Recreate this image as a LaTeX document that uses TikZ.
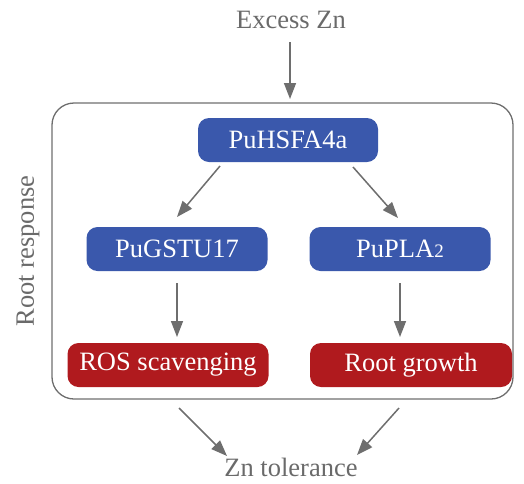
\documentclass[tikz,border=0pt]{standalone}
\usepackage{fontspec}
\setmainfont{Liberation Serif}
\usetikzlibrary{arrows.meta}
\definecolor{boxblue}{HTML}{3A58AC}
\definecolor{boxred}{HTML}{B01A1E}
\definecolor{txtgray}{HTML}{6A6A6A}
\definecolor{arrgray}{HTML}{6E6E6E}
\begin{document}
\begin{tikzpicture}[x=1pt,y=-1pt,
  bluebox/.style={fill=boxblue,text=white,rounded corners=11pt,minimum height=44pt,inner sep=0pt,font=\fontsize{26.5}{30}\selectfont},
  redbox/.style={fill=boxred,text=white,rounded corners=11pt,minimum height=44pt,inner sep=0pt,font=\fontsize{26.5}{30}\selectfont},
  lbl/.style={text=txtgray,inner sep=0pt,font=\fontsize{26.5}{30}\selectfont},
  arr/.style={draw=arrgray,line width=1.5pt,-{Triangle[length=16pt,width=12pt]}}]
\useasboundingbox (0,0) rectangle (524,483);
\node[lbl] (ex) at (291,20) {Excess Zn};
\node[lbl] (tol) at (291,467) {Zn tolerance};
\node[lbl,rotate=90] (rr) at (28,251) {Root response};
\draw[draw=arrgray,line width=1.3pt,rounded corners=22pt] (52,103) rectangle (513,399);
\node[bluebox,minimum width=180pt] (hsf) at (288,140) {PuHSFA4a};
\node[bluebox,minimum width=181pt] (gst) at (177,249) {PuGSTU17};
\node[bluebox,minimum width=181pt] (pla) at (400,249) {PuPLA{\fontsize{19}{20}\selectfont 2}};
\node[redbox,minimum width=201pt] (ros) at (168,365) {ROS scavenging};
\node[redbox,minimum width=202pt] (rg) at (411,365) {Root growth};
\coordinate (a0) at (290,42);  \coordinate (a1) at (290,99);
\coordinate (b0) at (220,166); \coordinate (b1) at (177,217);
\coordinate (c0) at (353,167); \coordinate (c1) at (398,218);
\coordinate (d0) at (177,283); \coordinate (d1) at (177,337);
\coordinate (e0) at (400,283); \coordinate (e1) at (400,337);
\coordinate (f0) at (179,408); \coordinate (f1) at (227,456);
\coordinate (g0) at (399,408); \coordinate (g1) at (357,455);
\draw[arr] (a0) -- (a1);
\draw[arr] (b0) -- (b1);
\draw[arr] (c0) -- (c1);
\draw[arr] (d0) -- (d1);
\draw[arr] (e0) -- (e1);
\draw[arr] (f0) -- (f1);
\draw[arr] (g0) -- (g1);
\end{tikzpicture}
\end{document}
